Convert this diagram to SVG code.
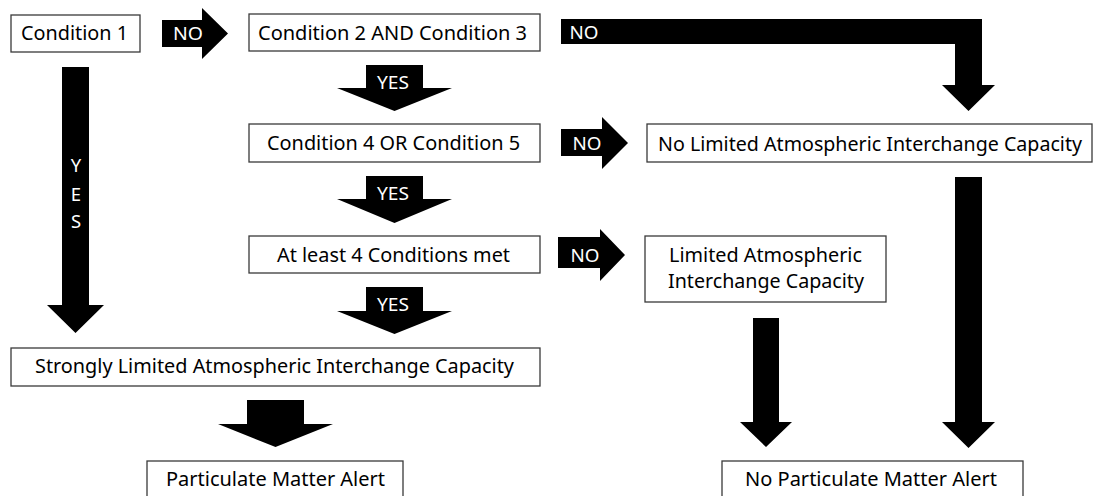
<svg xmlns="http://www.w3.org/2000/svg" width="1093" height="496" viewBox="0 0 1093 496">
<style>
.box{fill:#fff;stroke:#3a3a3a;stroke-width:1.3}
.t{font-family:"Noto Sans","Open Sans",sans-serif;font-size:20.5px;fill:#000;text-anchor:middle}
.w{font-family:"Noto Sans","Open Sans",sans-serif;font-size:18.5px;fill:#fff;text-anchor:middle}
.arr{fill:#000}
</style>
<rect width="1093" height="496" fill="#fff"/>
<g id="connectors">
<polygon class="arr" points="162,20 202,20 202,8 228,33.5 202,59 202,47 162,47"/>
<text class="w" x="188" y="40" textLength="30" lengthAdjust="spacingAndGlyphs">NO</text>
<polygon class="arr" points="561,19 982,19 982,85 995,85 968.5,111 942,85 955,85 955,44 561,44"/>
<text class="w" x="584" y="39" textLength="29" lengthAdjust="spacingAndGlyphs">NO</text>
<polygon class="arr" points="366,65 423,65 423,88 452,88 394.5,111 337,88 366,88"/>
<text class="w" x="393" y="89" textLength="32" lengthAdjust="spacingAndGlyphs">YES</text>
<polygon class="arr" points="366,176 423,176 423,199 452,199 394.5,223 337,199 366,199"/>
<text class="w" x="393" y="200" textLength="32" lengthAdjust="spacingAndGlyphs">YES</text>
<polygon class="arr" points="366,287 423,287 423,311 452,311 394.5,334 337,311 366,311"/>
<text class="w" x="393" y="311" textLength="32" lengthAdjust="spacingAndGlyphs">YES</text>
<polygon class="arr" points="62,67 89,67 89,305 104,305 75.5,333 47,305 62,305"/>
<text class="w" x="76" y="172">Y</text>
<text class="w" x="76" y="201">E</text>
<text class="w" x="76" y="228">S</text>
<polygon class="arr" points="247,400 304,400 304,424 333,424 275.5,447 218,424 247,424"/>
<polygon class="arr" points="561,129 602,129 602,117 628,143 602,169 602,156 561,156"/>
<text class="w" x="587" y="150" textLength="29" lengthAdjust="spacingAndGlyphs">NO</text>
<polygon class="arr" points="558,237 600,237 600,229 625,255 600,281 600,268 558,268"/>
<text class="w" x="585" y="262" textLength="29" lengthAdjust="spacingAndGlyphs">NO</text>
<polygon class="arr" points="955,177 982,177 982,422 995,422 968.5,448 942,422 955,422"/>
<polygon class="arr" points="753,318 779,318 779,422 792,422 766,447 740,422 753,422"/>
</g>
<g id="cond1">
<rect class="box" x="11" y="15" width="129" height="37"/>
<text class="t" x="74.5" y="40" textLength="107" lengthAdjust="spacingAndGlyphs">Condition 1</text>
</g>
<g id="cond23">
<rect class="box" x="249" y="14" width="291" height="37"/>
<text class="t" x="392.5" y="40" textLength="269" lengthAdjust="spacingAndGlyphs">Condition 2 AND Condition 3</text>
</g>
<g id="cond45">
<rect class="box" x="249" y="124" width="291" height="38"/>
<text class="t" x="393.5" y="150" textLength="253" lengthAdjust="spacingAndGlyphs">Condition 4 OR Condition 5</text>
</g>
<g id="atleast4">
<rect class="box" x="249" y="236" width="291" height="37"/>
<text class="t" x="393.5" y="262" textLength="233" lengthAdjust="spacingAndGlyphs">At least 4 Conditions met</text>
</g>
<g id="strong">
<rect class="box" x="11" y="348" width="529" height="38"/>
<text class="t" x="274.5" y="373" textLength="479" lengthAdjust="spacingAndGlyphs">Strongly Limited Atmospheric Interchange Capacity</text>
</g>
<g id="pmalert">
<rect class="box" x="147" y="461" width="256" height="40"/>
<text class="t" x="275.5" y="486" textLength="219" lengthAdjust="spacingAndGlyphs">Particulate Matter Alert</text>
</g>
<g id="nolimited">
<rect class="box" x="647" y="124" width="445" height="38"/>
<text class="t" x="870" y="151" style="font-size:19px" textLength="424" lengthAdjust="spacingAndGlyphs">No Limited Atmospheric Interchange Capacity</text>
</g>
<g id="limited">
<rect class="box" x="645" y="236" width="241" height="66"/>
<text class="t" x="765.5" y="262" textLength="193" lengthAdjust="spacingAndGlyphs">Limited Atmospheric</text>
<text class="t" x="766" y="288" textLength="196" lengthAdjust="spacingAndGlyphs">Interchange Capacity</text>
</g>
<g id="nopmalert">
<rect class="box" x="722" y="461" width="301" height="40"/>
<text class="t" x="871" y="486" textLength="252" lengthAdjust="spacingAndGlyphs">No Particulate Matter Alert</text>
</g>
</svg>
